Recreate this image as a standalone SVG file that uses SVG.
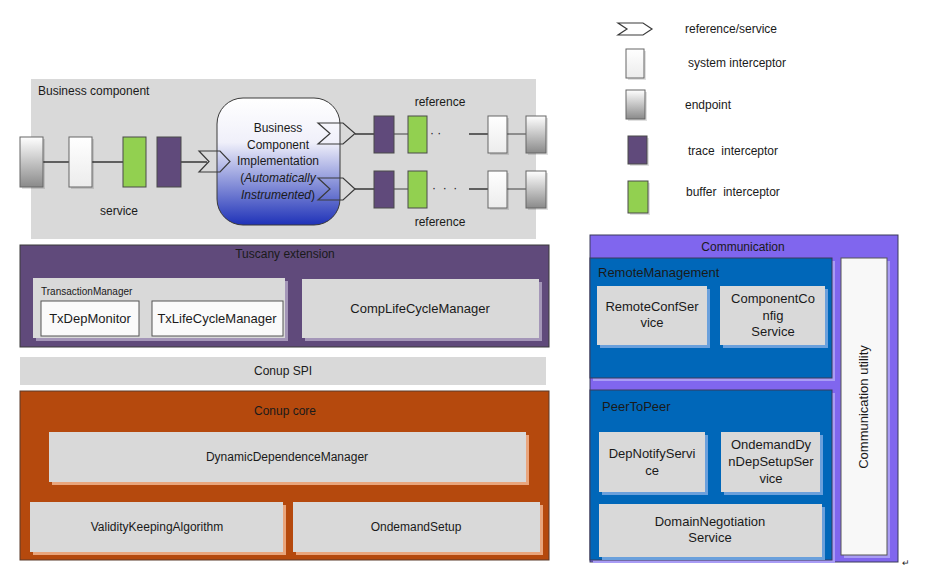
<svg xmlns="http://www.w3.org/2000/svg" width="933" height="581" viewBox="0 0 933 581">
<defs>
<linearGradient id="gEnd" x1="0" y1="0" x2="0" y2="1"><stop offset="0" stop-color="#ffffff"/><stop offset="1" stop-color="#8a8a8a"/></linearGradient>
<linearGradient id="gSys" x1="0" y1="0" x2="0" y2="1"><stop offset="0" stop-color="#ffffff"/><stop offset="1" stop-color="#ececec"/></linearGradient>
<linearGradient id="gImpl" x1="0" y1="0" x2="0" y2="1"><stop offset="0" stop-color="#ffffff"/><stop offset="0.35" stop-color="#f0f0fa"/><stop offset="1" stop-color="#1f32b8"/></linearGradient>
<style>
text{font-family:"Liberation Sans",Arial,sans-serif;fill:#1a1a1a}
.t12{font-size:12px}.t13{font-size:13px}.t10{font-size:10px}
.c{text-anchor:middle}
.sh{fill:#000;opacity:0.12}
.ep{fill:url(#gEnd);stroke:#666;stroke-width:1}
.si{fill:url(#gSys);stroke:#666;stroke-width:1}
.tr{fill:#604a7b;stroke:#4a4a4a;stroke-width:1}
.bu{fill:#92d050;stroke:#4a4a4a;stroke-width:1}
.chev{fill:none;stroke:#3a3a3a;stroke-width:1.2}
.ln{stroke:#404040;stroke-width:1.6;fill:none}
.gbox{fill:#d9d9d9}
.wbox{fill:#fafafa;stroke:#555;stroke-width:1}
</style>
</defs>
<rect width="933" height="581" fill="#ffffff"/>

<!-- Legend -->
<g id="legend">
<polygon class="chev" points="618,23 643,23 652,29 643,35 618,35 627,29"/>
<text class="t12" x="685" y="33">reference/service</text>
<rect class="sh" x="628" y="51" width="18" height="29"/>
<rect class="si" x="626" y="49" width="18" height="29"/>
<text class="t12" x="688" y="67">system interceptor</text>
<rect class="sh" x="628" y="92" width="19" height="29"/>
<rect class="ep" x="626" y="90" width="19" height="29"/>
<text class="t12" x="685" y="109">endpoint</text>
<rect class="sh" x="630" y="138" width="19" height="28"/>
<rect class="tr" x="628" y="136" width="19" height="28"/>
<text class="t12" x="688" y="155" xml:space="preserve">trace  interceptor</text>
<rect class="sh" x="630" y="183" width="20" height="32"/>
<rect class="bu" x="628" y="181" width="20" height="32"/>
<text class="t12" x="686" y="196" xml:space="preserve">buffer  interceptor</text>
</g>

<!-- Business component -->
<g id="business-component">
<rect x="31" y="79" width="505" height="160" class="gbox"/>
<text class="t12" x="38" y="95">Business component</text>
<text class="t12 c" x="119" y="215">service</text>
<text class="t12 c" x="440" y="106">reference</text>
<text class="t12 c" x="440" y="226">reference</text>
</g>

<g id="connectors">
<line class="ln" x1="43" y1="162" x2="69" y2="162"/>
<line class="ln" x1="92" y1="162" x2="123" y2="162"/>
<line class="ln" x1="181" y1="162" x2="207" y2="162"/>
<line class="ln" x1="355" y1="134" x2="374" y2="134"/>
<line class="ln" x1="394" y1="134" x2="408" y2="134" style="stroke-width:1"/>
<line class="ln" x1="469" y1="134" x2="488" y2="134"/>
<line class="ln" x1="507" y1="134" x2="526" y2="134" style="stroke-width:1"/>
<line class="ln" x1="355" y1="189" x2="374" y2="189"/>
<line class="ln" x1="394" y1="189" x2="408" y2="189" style="stroke-width:1"/>
<line class="ln" x1="469" y1="189" x2="488" y2="189"/>
<line class="ln" x1="507" y1="189" x2="526" y2="189" style="stroke-width:1"/>
</g>

<g id="svc-endpoint"><rect class="sh" x="22" y="139" width="23" height="50"/><rect class="ep" x="20" y="137" width="23" height="50"/></g>
<g id="svc-system"><rect class="sh" x="71" y="139" width="23" height="50"/><rect class="si" x="69" y="137" width="23" height="50"/></g>
<g id="svc-buffer"><rect class="bu" x="123" y="137" width="23" height="50"/></g>
<g id="svc-trace"><rect class="tr" x="157" y="137" width="24" height="50"/></g>

<g id="impl">
<rect x="217" y="98" width="123" height="127" rx="26" fill="url(#gImpl)" stroke="#3a3a3a" stroke-width="1"/>
<text class="t12 c" x="278" y="132">Business</text>
<text class="t12 c" x="278" y="149">Component</text>
<text class="t12 c" x="278" y="165">Implementation</text>
<text class="t12 c" x="278" y="182">(<tspan font-style="italic">Automatically</tspan></text>
<text class="t12 c" x="278" y="199"><tspan font-style="italic">Instrumented</tspan>)</text>
</g>

<g id="svc-chevron"><polygon class="chev" points="199,151 220,151 230,161.5 220,172 199,172 209,161.5"/></g>
<g id="ref1-chevron"><polygon class="chev" points="318,123 343,123 355,133.5 343,144 318,144 330,133.5"/></g>
<g id="ref2-chevron"><polygon class="chev" points="318,178 343,178 355,189 343,200 318,200 330,189"/></g>

<g id="ref1">
<rect class="tr" x="374" y="116" width="20" height="37"/>
<rect class="bu" x="408" y="116" width="19" height="37"/>
<text class="t12" x="430" y="137" fill="#555">· ·</text>
<rect class="sh" x="490" y="118" width="19" height="37"/><rect class="si" x="488" y="116" width="19" height="37"/>
<rect class="sh" x="528" y="118" width="20" height="37"/><rect class="ep" x="526" y="116" width="20" height="37"/>
</g>
<g id="ref2">
<rect class="tr" x="374" y="171" width="20" height="37"/>
<rect class="bu" x="408" y="171" width="19" height="37"/>
<text class="t12" x="432" y="192" fill="#555" xml:space="preserve">·  ·  ·</text>
<rect class="sh" x="490" y="173" width="19" height="37"/><rect class="si" x="488" y="171" width="19" height="37"/>
<rect class="sh" x="528" y="173" width="20" height="37"/><rect class="ep" x="526" y="171" width="20" height="37"/>
</g>

<!-- Tuscany extension -->
<g id="tuscany">
<rect x="20" y="245" width="529" height="102" fill="#604a7b" stroke="#3a3a3a" stroke-width="1"/>
<text class="t12 c" x="285" y="258">Tuscany extension</text>
</g>
<g id="transaction-manager">
<rect x="36" y="281" width="252" height="60" fill="#a496b8"/>
<rect x="33" y="278" width="252" height="60" class="gbox"/>
<text class="t10" x="41" y="295">TransactionManager</text>
</g>
<g id="txdepmonitor">
<rect class="wbox" x="41" y="301" width="98" height="35"/>
<text class="t13 c" x="90" y="323">TxDepMonitor</text>
</g>
<g id="txlifecyclemanager">
<rect class="wbox" x="152" y="301" width="131" height="35"/>
<text class="t13 c" x="217" y="323">TxLifeCycleManager</text>
</g>
<g id="complifecyclemanager">
<rect x="305" y="282" width="237" height="59" fill="#a496b8"/>
<rect x="302" y="279" width="237" height="59" class="gbox"/>
<text class="t13 c" x="420" y="313">CompLifeCycleManager</text>
</g>

<g id="conup-spi">
<rect x="20" y="357" width="526" height="28" class="gbox"/>
<text class="t12 c" x="283" y="375">Conup SPI</text>
</g>

<!-- Conup core -->
<g id="conup-core">
<rect x="20" y="391" width="529" height="169" fill="#b5490d" stroke="#5a3a2a" stroke-width="1"/>
<text class="t12 c" x="285" y="415">Conup core</text>
</g>
<g id="ddm">
<rect x="52" y="435" width="477" height="50" fill="#e9a57c"/>
<rect x="49" y="432" width="477" height="50" class="gbox"/>
<text class="t12 c" x="287" y="461">DynamicDependenceManager</text>
</g>
<g id="vka">
<rect x="33" y="505" width="253" height="50" fill="#e9a57c"/>
<rect x="30" y="502" width="253" height="50" class="gbox"/>
<text class="t12 c" x="157" y="531">ValidityKeepingAlgorithm</text>
</g>
<g id="ondemandsetup">
<rect x="296" y="505" width="247" height="50" fill="#e9a57c"/>
<rect x="293" y="502" width="247" height="50" class="gbox"/>
<text class="t12 c" x="416" y="531">OndemandSetup</text>
</g>

<!-- Communication -->
<g id="communication">
<rect x="590" y="235" width="308" height="327" fill="#8066ee" stroke="#3a3a5a" stroke-width="1"/>
<text class="t12 c" x="743" y="251">Communication</text>
</g>
<g id="remote-management">
<rect x="593" y="261" width="242" height="120" fill="#a99cf5"/>
<rect x="590" y="258" width="242" height="120" fill="#0067b9" stroke="#3a3a5a" stroke-width="1"/>
<text class="t13" x="598" y="277">RemoteManagement</text>
</g>
<g id="remoteconfservice">
<rect x="600" y="289" width="110" height="59" fill="#6aa0dc"/>
<rect x="597" y="286" width="110" height="59" class="gbox"/>
<text class="t13 c" x="652" y="311">RemoteConfSer</text>
<text class="t13 c" x="652" y="327">vice</text>
</g>
<g id="componentconfigservice">
<rect x="723" y="289" width="105" height="59" fill="#6aa0dc"/>
<rect x="720" y="286" width="105" height="59" class="gbox"/>
<text class="t13 c" x="773" y="303">ComponentCo</text>
<text class="t13 c" x="773" y="320">nfig</text>
<text class="t13 c" x="773" y="336">Service</text>
</g>
<g id="peertopeer">
<rect x="593" y="393" width="242" height="170" fill="#a99cf5"/>
<rect x="590" y="390" width="242" height="170" fill="#0067b9" stroke="#3a3a5a" stroke-width="1"/>
<text class="t13" x="602" y="411">PeerToPeer</text>
</g>
<g id="depnotifyservice">
<rect x="602" y="435" width="106" height="60" fill="#6aa0dc"/>
<rect x="599" y="432" width="106" height="60" class="gbox"/>
<text class="t13 c" x="652" y="458">DepNotifyServi</text>
<text class="t13 c" x="652" y="475">ce</text>
</g>
<g id="ondemanddyndepsetupservice">
<rect x="724" y="435" width="99" height="60" fill="#6aa0dc"/>
<rect x="721" y="432" width="99" height="60" class="gbox"/>
<text class="t13 c" x="771" y="449">OndemandDy</text>
<text class="t13 c" x="771" y="466">nDepSetupSer</text>
<text class="t13 c" x="771" y="483">vice</text>
</g>
<g id="domainnegotiationservice">
<rect x="602" y="507" width="223" height="53" fill="#6aa0dc"/>
<rect x="599" y="504" width="223" height="53" class="gbox"/>
<text class="t13 c" x="710" y="526">DomainNegotiation</text>
<text class="t13 c" x="710" y="542">Service</text>
</g>
<g id="communication-utility">
<rect x="844" y="261" width="46" height="297" fill="#a99cf5"/>
<rect x="841" y="258" width="46" height="297" fill="#f8f8f8" stroke="#555" stroke-width="1"/>
<text class="t13 c" x="0" y="0" transform="translate(868,407) rotate(-90)">Communication utility</text>
</g>
<text x="902" y="566" font-size="9" fill="#888">↵</text>
</svg>
